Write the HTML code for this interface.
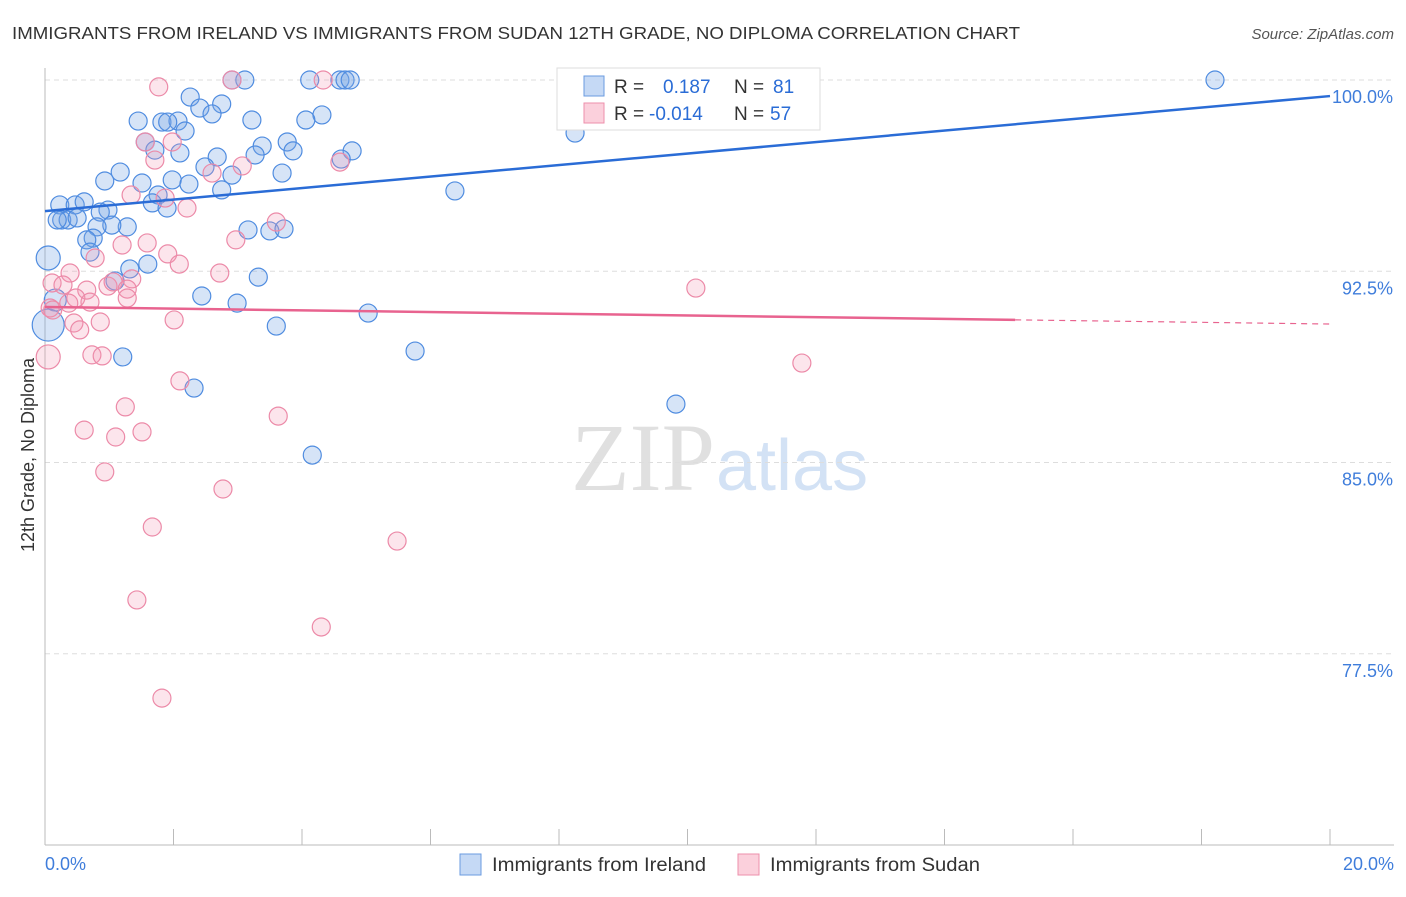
<!DOCTYPE html>
<html><head><meta charset="utf-8"><style>
body{margin:0;background:#fff;font-family:"Liberation Sans",sans-serif;}
</style></head><body>
<svg width="1406" height="892" xmlns="http://www.w3.org/2000/svg" style="font-family:'Liberation Sans',sans-serif">
<text x="12" y="39" font-size="17.5" fill="#333" textLength="1008" lengthAdjust="spacingAndGlyphs">IMMIGRANTS FROM IRELAND VS IMMIGRANTS FROM SUDAN 12TH GRADE, NO DIPLOMA CORRELATION CHART</text>
<text x="1394" y="39" font-size="15" fill="#555" text-anchor="end" font-style="italic">Source: ZipAtlas.com</text>
<text x="715" y="490" font-size="96" fill="#e0e0e0" text-anchor="end" font-family="'Liberation Serif',serif">ZIP</text>
<text x="716" y="490" font-size="72" fill="#d3e2f5">atlas</text>
<g id="grid"></g><g id="axes"></g><g id="pts"></g><g id="trend"></g>
<text transform="translate(34,455) rotate(-90)" font-size="18" fill="#333" text-anchor="middle">12th Grade, No Diploma</text>
<g>
<rect x="557" y="68" width="263" height="62" fill="#fff" stroke="#ddd"/>
<rect x="584" y="76" width="20" height="20" fill="#c5d9f5" stroke="#6a9be0"/>
<rect x="584" y="103" width="20" height="20" fill="#fbd0dc" stroke="#ee8fab"/>
<text x="614" y="93" font-size="19" fill="#333">R = <tspan fill="#2a6cd6" x="663">0.187</tspan><tspan x="734" fill="#333">N = </tspan><tspan fill="#2a6cd6" x="773">81</tspan></text>
<text x="614" y="120" font-size="19" fill="#333">R = <tspan fill="#2a6cd6" x="649">-0.014</tspan><tspan x="734" fill="#333">N = </tspan><tspan fill="#2a6cd6" x="770">57</tspan></text>
</g>
<g><rect x="460" y="854" width="21" height="21" fill="#c5d9f5" stroke="#6a9be0"/><text x="492" y="871" font-size="19" fill="#333" textLength="214" lengthAdjust="spacingAndGlyphs">Immigrants from Ireland</text></g>
<g><rect x="738" y="854" width="21" height="21" fill="#fbd0dc" stroke="#ee8fab"/><text x="770" y="871" font-size="19" fill="#333" textLength="210" lengthAdjust="spacingAndGlyphs">Immigrants from Sudan</text></g>
</svg>
<script>
const xTicks=[0,2,4,6,8,10,12,14,16,18,20];
const yTicks=[100,92.5,85,77.5];
const yTickLabels=["100.0%","92.5%","85.0%","77.5%"];
const xTickLabels=["0.0%","20.0%"];
const irelandX=[3.11,4.12,4.59,4.67,4.75,2.91,18.21,2.26,2.75,2.41,2.6,4.31,1.45,1.82,2.07,1.91,2.18,3.22,4.06,1.56,1.71,2.1,3.38,3.77,3.86,3.27,2.68,4.78,4.61,1.17,2.49,1.98,2.91,3.69,0.93,1.51,2.24,2.75,6.38,8.25,1.76,1.67,1.9,0.23,0.47,0.61,0.98,0.86,3.16,3.5,3.72,0.26,0.36,0.5,0.19,1.28,1.04,0.81,0.75,0.65,0.7,0.05,1.32,1.6,1.09,3.32,2.44,2.99,5.03,3.6,5.76,1.21,2.32,9.82,4.16,0.16,0.05];
const irelandY=[100,100,100,100,100,100,100,99.33,99.06,98.9,98.67,98.63,98.39,98.35,98.39,98.35,98.0,98.43,98.43,97.57,97.25,97.14,97.41,97.57,97.22,97.06,96.98,97.22,96.9,96.39,96.59,96.08,96.27,96.35,96.04,95.96,95.92,95.69,95.65,97.92,95.49,95.18,94.98,95.1,95.1,95.22,94.9,94.82,94.12,94.08,94.16,94.51,94.51,94.59,94.51,94.24,94.31,94.24,93.8,93.73,93.25,93.02,92.59,92.78,92.12,92.27,91.53,91.25,90.86,90.35,89.37,89.14,87.92,87.29,85.29,91.37,90.39];
const irelandR=[9,9,9,9,9,9,9,9,9,9,9,9,9,9,9,9,9,9,9,9,9,9,9,9,9,9,9,9,9,9,9,9,9,9,9,9,9,9,9,9,9,9,9,9,9,9,9,9,9,9,9,9,9,9,9,9,9,9,9,9,9,12,9,9,9,9,9,9,9,9,9,9,9,9,9,11,16];
const sudanX=[1.77,2.91,4.33,1.56,1.98,1.71,4.59,3.07,2.6,1.34,1.87,2.21,3.6,1.59,1.2,2.97,1.91,0.78,2.09,0.39,2.72,0.11,0.28,0.65,0.98,1.35,1.06,1.28,0.48,0.7,1.28,0.37,0.08,0.12,2.01,0.45,0.54,0.86,10.13,0.73,0.89,0.05,2.1,3.63,1.25,0.61,1.1,1.51,0.93,2.77,1.67,5.48,1.43,4.3,1.82,11.78];
const sudanY=[99.73,100,100,97.57,97.57,96.86,96.78,96.63,96.35,95.49,95.37,94.98,94.43,93.61,93.53,93.73,93.18,93.02,92.78,92.43,92.43,92.04,91.96,91.76,91.92,92.2,92.08,91.8,91.45,91.29,91.45,91.25,91.06,90.98,90.59,90.47,90.2,90.51,91.84,89.22,89.18,89.14,88.2,86.82,87.18,86.27,86.0,86.2,84.63,83.96,82.47,81.92,79.61,78.55,75.76,88.9];
const sudanR=[9,9,9,9,9,9,9,9,9,9,9,9,9,9,9,9,9,9,9,9,9,9,9,9,9,9,9,9,9,9,9,9,9,9,9,9,9,9,9,9,9,12,9,9,9,9,9,9,9,9,9,9,9,9,9,9];
const irelandTrend=[94.86,99.37];
const sudanTrend=[91.1,90.43];
const sudanSolidEnd=15.1;
const NS="http://www.w3.org/2000/svg";
const X=v=>45+(v/20)*1285;
const Y=v=>80+(100-v)*25.5;
function mk(tag,attrs,parent){const e=document.createElementNS(NS,tag);for(const k in attrs)e.setAttribute(k,attrs[k]);parent.appendChild(e);return e;}
const grid=document.getElementById('grid'),axes=document.getElementById('axes'),pts=document.getElementById('pts'),trend=document.getElementById('trend');
yTicks.forEach((t,i)=>{
 const l=mk('line',{x1:45,x2:1394,y1:Y(t),y2:Y(t),stroke:'#ddd','stroke-dasharray':'5,4'},grid);
 
 
 const tx=mk('text',{x:1393,y:Y(t)+23,'font-size':18,fill:'#3f7ddb','text-anchor':'end'},axes);
 tx.textContent=yTickLabels[i];
 
 
});
const ax=mk('line',{x1:45,x2:45,y1:68,y2:845,stroke:'#bbb'},axes);


const bx=mk('line',{x1:45,x2:1394,y1:845,y2:845,stroke:'#bbb'},axes);


xTicks.forEach(t=>{
 const l=mk('line',{x1:X(t),x2:X(t),y1:829,y2:845,stroke:'#bbb'},axes);
 
 
});
const xl0=mk('text',{x:45,y:870,'font-size':18,fill:'#3f7ddb'},axes);xl0.textContent=xTickLabels[0];


const xl1=mk('text',{x:1394,y:870,'font-size':18,fill:'#3f7ddb','text-anchor':'end'},axes);xl1.textContent=xTickLabels[1];


irelandX.forEach((v,i)=>{
 const c=mk('circle',{cx:X(v),cy:Y(irelandY[i]),r:irelandR[i],fill:'rgba(120,165,230,0.3)',stroke:'#4f8ce0','stroke-width':1.2},pts);
 
 
});
sudanX.forEach((v,i)=>{
 const c=mk('circle',{cx:X(v),cy:Y(sudanY[i]),r:sudanR[i],fill:'rgba(245,150,180,0.25)',stroke:'#ec8aa8','stroke-width':1.2},pts);
 
 
});
const bt=mk('line',{x1:X(0),y1:Y(irelandTrend[0]),x2:X(20),y2:Y(irelandTrend[1]),stroke:'#2a6cd6','stroke-width':2.5},trend);


const sm=sudanTrend[0]+(sudanTrend[1]-sudanTrend[0])*sudanSolidEnd/20;
const st=mk('line',{x1:X(0),y1:Y(sudanTrend[0]),x2:X(sudanSolidEnd),y2:Y(sm),stroke:'#e8638f','stroke-width':2.5},trend);


const sd=mk('line',{x1:X(sudanSolidEnd),y1:Y(sm),x2:X(20),y2:Y(sudanTrend[1]),stroke:'#e8638f','stroke-width':1.2,'stroke-dasharray':'6,5'},trend);


</script>
</body></html>
